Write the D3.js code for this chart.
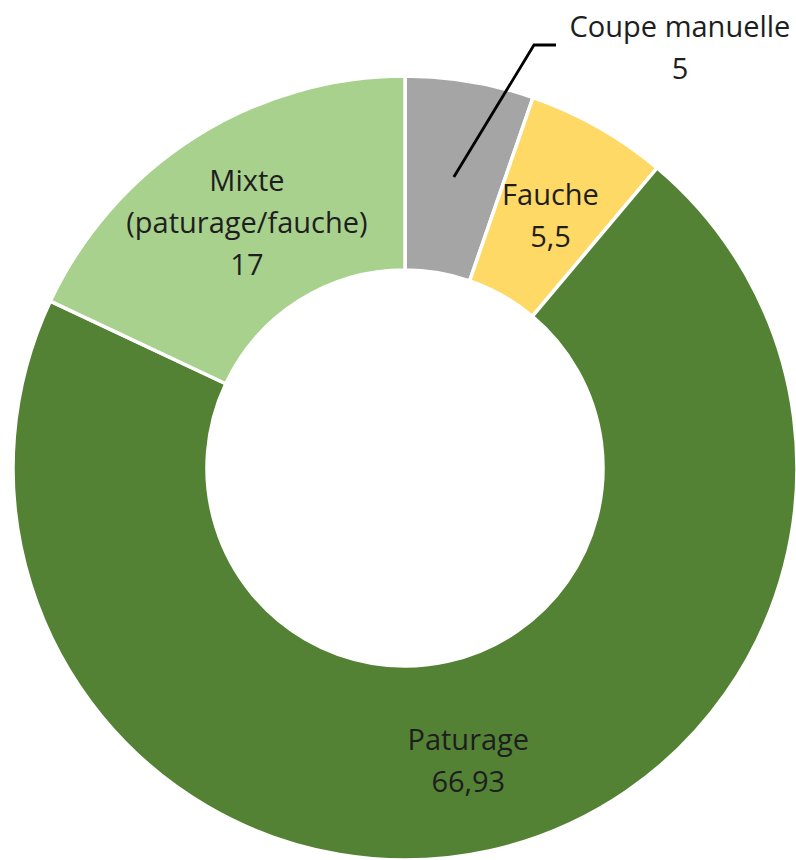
<!DOCTYPE html>
<html><head><meta charset="utf-8">
<script src="https://cdn.jsdelivr.net/npm/d3@7"></script>
<style>html,body{margin:0;padding:0;background:#fff;}svg{display:block;}</style>
</head><body>
<script>
const categories = ["Coupe manuelle", "Fauche", "Paturage", "Mixte (paturage/fauche)"];
const labelLines = [["Coupe manuelle"], ["Fauche"], ["Paturage"], ["Mixte", "(paturage/fauche)"]];
const values = [5, 5.5, 66.93, 17];
const valueLabels = ["5", "5,5", "66,93", "17"];
const colors = ["#A5A5A5", "#FFD966", "#548235", "#A9D18E"];

const W = 796, H = 860;
const cx = 405, cy = 468, R = 392, r0 = 198;
const svg = d3.select("body").append("svg").attr("width", W).attr("height", H);
const g = svg.append("g").attr("transform", `translate(${cx},${cy})`);

const pie = d3.pie().value(d => d).sort(null);
const arcs = pie(values);
const arc = d3.arc().innerRadius(r0).outerRadius(R);
const mid = d3.arc().innerRadius(295).outerRadius(295);

g.selectAll("path").data(arcs).join("path")
  .attr("d", arc).attr("fill", (d, i) => colors[i])
  .attr("stroke", "#fff").attr("stroke-width", 3.5).attr("stroke-linejoin", "round");

const font = "'Open Sans', sans-serif", fs = 29, lh = 42, tc = "#1e1e1e";

arcs.forEach((d, i) => {
  const lines = labelLines[i].concat([valueLabels[i]]);
  const [mx, my] = mid.centroid(d);
  if (i === 0) {
    const ex = 534 - cx, ey = 45 - cy;
    g.append("polyline")
      .attr("points", `${mx},${my} ${ex},${ey} ${ex + 22},${ey}`)
      .attr("fill", "none").attr("stroke", "#000").attr("stroke-width", 2.8);
    const t = g.append("text").attr("x", 680 - cx).attr("y", 37 - cy)
      .attr("text-anchor", "middle").attr("font-family", font).attr("font-size", fs).attr("fill", tc);
    lines.forEach((l, k) => t.append("tspan").attr("x", 680 - cx).attr("dy", k ? lh : 0).text(l));
  } else {
    const t = g.append("text").attr("text-anchor", "middle")
      .attr("font-family", font).attr("font-size", fs).attr("fill", tc);
    const y0 = my - (lines.length - 1) * lh / 2 + fs * 0.5;
    lines.forEach((l, k) => t.append("tspan").attr("x", mx).attr("y", y0 + k * lh).text(l));
  }
});
</script>
</body></html>
